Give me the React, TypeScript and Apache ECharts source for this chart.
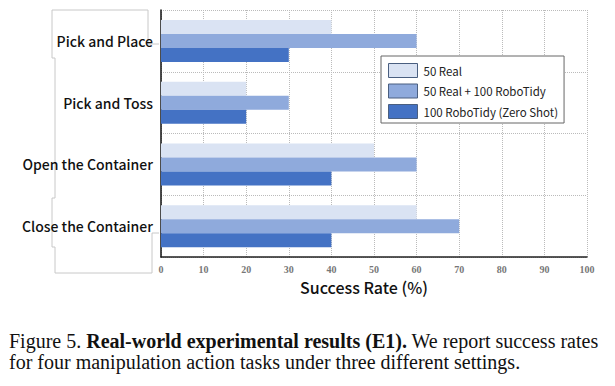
import React, { useEffect, useRef } from "react";
import * as echarts from "echarts";

const categories = ["Pick and Place", "Pick and Toss", "Open the Container", "Close the Container"];
const seriesNames = ["50 Real", "50 Real + 100 RoboTidy", "100 RoboTidy (Zero Shot)"];
const real50 = [40, 20, 50, 60];
const realPlusTidy = [60, 30, 60, 70];
const tidyZeroShot = [30, 20, 40, 40];
const seriesValues = [real50, realPlusTidy, tidyZeroShot];
const colors = ["#dae3f3", "#8faadc", "#4472c4"];
const xTicks = { min: 0, max: 100, interval: 10 };

const SANS = '"Noto Sans CJK SC", "Noto Sans", sans-serif';
const SERIF = '"Liberation Serif", "Times New Roman", serif';

export default function App() {
  const ref = useRef<HTMLDivElement>(null);
  useEffect(() => {
    document.body.style.margin = "0";
    const chart = echarts.init(ref.current!, null, { renderer: "svg" });
    const grayLine = { stroke: "#c8c8c8", lineWidth: 1, fill: "none" };
    chart.setOption({
      animation: false,
      grid: { left: 161, right: 28, top: 10, bottom: 129 },
      legend: {
        orient: "vertical",
        left: 381,
        top: 56,
        backgroundColor: "#fff",
        borderColor: "#666",
        borderWidth: 1,
        borderRadius: 0,
        padding: [7, 6, 4, 7],
        itemWidth: 29,
        itemHeight: 14,
        itemGap: 5.5,
        icon: "rect",
        itemStyle: { borderColor: "#4a5f80", borderWidth: 1 },
        textStyle: { fontFamily: SANS, fontSize: 11.5, color: "#222", padding: [0, 0, 0, 1] },
        data: seriesNames,
      },
      xAxis: {
        type: "value",
        min: xTicks.min,
        max: xTicks.max,
        interval: xTicks.interval,
        axisLine: { show: true, lineStyle: { color: "#222", width: 1.5 } },
        axisTick: { show: false },
        axisLabel: {
          fontFamily: SERIF,
          fontWeight: "bold",
          fontSize: 10,
          color: "#777",
          margin: 7,
        },
        splitLine: { show: true, lineStyle: { color: "#bbb", type: "dotted", width: 1 } },
        name: "Success Rate (%)",
        nameLocation: "middle",
        nameGap: 20,
        nameTextStyle: { fontFamily: SANS, fontSize: 16, fontWeight: 500, color: "#111", padding: [0, 20, 0, 0] },
      },
      yAxis: {
        type: "category",
        data: categories,
        inverse: true,
        axisLine: { show: true, lineStyle: { color: "#111", width: 1.5 } },
        axisTick: { show: false },
        axisLabel: { fontFamily: SANS, fontSize: 14, fontWeight: 500, color: "#111", margin: 8 },
        splitLine: { show: true, lineStyle: { color: "#bbb", type: "dotted", width: 1 } },
      },
      series: seriesValues.map((vals, i) => ({
        type: "bar",
        name: seriesNames[i],
        data: vals,
        barWidth: 14,
        barGap: "0%",
        itemStyle: { color: colors[i] },
        z: 2,
      })),
      graphic: [
        {
          type: "polyline",
          silent: true,
          shape: { points: [[159, 44], [148, 44], [148, 10], [52, 10], [52, 58], [55, 58], [55, 198], [52, 198], [52, 247], [55, 247], [55, 273], [152, 273], [152, 233], [159, 233]] },
          style: grayLine,
        },
        {
          type: "text",
          left: 9,
          top: 330,
          style: {
            text: "Figure 5. {b|Real-world experimental results (E1).} We report success rates\nfor four manipulation action tasks under three different settings.",
            fontFamily: SERIF,
            fontSize: 20,
            lineHeight: 21,
            fill: "#111",
            rich: {
              b: { fontFamily: SERIF, fontSize: 20, fontWeight: "bold", fill: "#111", lineHeight: 21 },
            },
          },
        },
      ],
    });
    return () => chart.dispose();
  }, []);
  return <div ref={ref} style={{ width: 615, height: 386 }} />;
}
